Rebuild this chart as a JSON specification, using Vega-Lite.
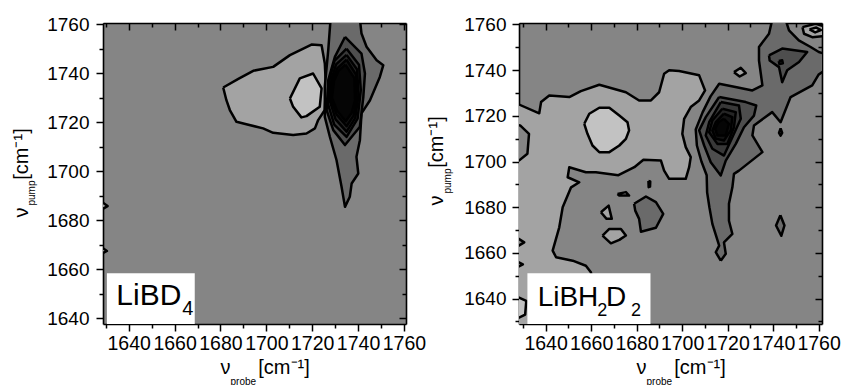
{
"$schema": "https://vega.github.io/schema/vega-lite/v6.json",
"padding": {"left": 11, "top": 15, "right": 0, "bottom": 0},
"bounds": "flush",
"spacing": 113,
"background": "white",
"config": {
  "view": {"fill": "#858585", "stroke": null},
  "axis": {"domainColor": "black", "domainWidth": 1.6, "tickColor": "black", "tickWidth": 1.5, "labelFont": "Liberation Sans", "labelFontSize": 19, "labelColor": "black", "titleFont": "Liberation Sans", "titleFontSize": 20, "titleFontWeight": "normal", "titleColor": "black", "grid": false, "labelFlush": false, "labelOverlap": false}
},
"datasets": {
  "ca": [
    {"g":"a1","l":-1,"i":1,"x":1681.2,"y":1734.2},{"g":"a1","l":-1,"i":2,"x":1688,"y":1737.8},{"g":"a1","l":-1,"i":3,"x":1694.3,"y":1741},{"g":"a1","l":-1,"i":4,"x":1703,"y":1742.6},{"g":"a1","l":-1,"i":5,"x":1710.3,"y":1747.4},{"g":"a1","l":-1,"i":6,"x":1719.7,"y":1751.7},{"g":"a1","l":-1,"i":7,"x":1724.1,"y":1751.4},{"g":"a1","l":-1,"i":8,"x":1725.5,"y":1744},{"g":"a1","l":-1,"i":9,"x":1726,"y":1734.5},{"g":"a1","l":-1,"i":10,"x":1725.5,"y":1725},{"g":"a1","l":-1,"i":11,"x":1722.6,"y":1720.9},{"g":"a1","l":-1,"i":12,"x":1721.2,"y":1717.5},{"g":"a1","l":-1,"i":13,"x":1717.5,"y":1715.4},{"g":"a1","l":-1,"i":14,"x":1711.7,"y":1714.8},{"g":"a1","l":-1,"i":15,"x":1703,"y":1715.7},{"g":"a1","l":-1,"i":16,"x":1698.6,"y":1717.5},{"g":"a1","l":-1,"i":17,"x":1691.3,"y":1719.2},{"g":"a1","l":-1,"i":18,"x":1687,"y":1720.2},{"g":"a1","l":-1,"i":19,"x":1684.1,"y":1725},{"g":"a1","l":-1,"i":20,"x":1682.6,"y":1729},{"g":"a1","l":-1,"i":21,"x":1681.2,"y":1734.2},
    {"g":"a9","l":-1,"i":1,"x":1627.5,"y":1688},{"g":"a9","l":-1,"i":2,"x":1630.8,"y":1685.8},{"g":"a9","l":-1,"i":3,"x":1627.5,"y":1684},{"g":"a9","l":-1,"i":4,"x":1627.5,"y":1688},
    {"g":"a10","l":-1,"i":1,"x":1627.5,"y":1669.5},{"g":"a10","l":-1,"i":2,"x":1630.5,"y":1667.5},{"g":"a10","l":-1,"i":3,"x":1627.5,"y":1666},{"g":"a10","l":-1,"i":4,"x":1627.5,"y":1669.5},
    {"g":"a2","l":-2,"i":1,"x":1710.3,"y":1729.7},{"g":"a2","l":-2,"i":2,"x":1714.6,"y":1737.9},{"g":"a2","l":-2,"i":3,"x":1720.4,"y":1739.9},{"g":"a2","l":-2,"i":4,"x":1724.1,"y":1733.8},{"g":"a2","l":-2,"i":5,"x":1723.3,"y":1726.3},{"g":"a2","l":-2,"i":6,"x":1717.5,"y":1722.5},{"g":"a2","l":-2,"i":7,"x":1715.3,"y":1722},{"g":"a2","l":-2,"i":8,"x":1711.7,"y":1726.3},{"g":"a2","l":-2,"i":9,"x":1710.3,"y":1729.7},
    {"g":"a3","l":1,"i":1,"x":1728,"y":1762},{"g":"a3","l":1,"i":2,"x":1727,"y":1749.4},{"g":"a3","l":1,"i":3,"x":1725.5,"y":1734.5},{"g":"a3","l":1,"i":4,"x":1725.5,"y":1722.2},{"g":"a3","l":1,"i":5,"x":1727.7,"y":1714.1},{"g":"a3","l":1,"i":6,"x":1730.6,"y":1704.6},{"g":"a3","l":1,"i":7,"x":1732.8,"y":1693.7},{"g":"a3","l":1,"i":8,"x":1734.3,"y":1685.5},{"g":"a3","l":1,"i":9,"x":1736.4,"y":1689.6},{"g":"a3","l":1,"i":10,"x":1737.2,"y":1695},{"g":"a3","l":1,"i":11,"x":1740.1,"y":1699.1},{"g":"a3","l":1,"i":12,"x":1739.3,"y":1705.9},{"g":"a3","l":1,"i":13,"x":1740.8,"y":1712.7},{"g":"a3","l":1,"i":14,"x":1741.5,"y":1723.6},{"g":"a3","l":1,"i":15,"x":1745.2,"y":1729},{"g":"a3","l":1,"i":16,"x":1749.5,"y":1738.5},{"g":"a3","l":1,"i":17,"x":1751,"y":1743.3},{"g":"a3","l":1,"i":18,"x":1748.1,"y":1745.3},{"g":"a3","l":1,"i":19,"x":1743.7,"y":1750.8},{"g":"a3","l":1,"i":20,"x":1741.5,"y":1756.2},{"g":"a3","l":1,"i":21,"x":1740.8,"y":1762},{"g":"a3","l":1,"i":22,"x":1728,"y":1762},
    {"g":"a4","l":2,"i":1,"x":1734.3,"y":1754.8},{"g":"a4","l":2,"i":2,"x":1741.5,"y":1748},{"g":"a4","l":2,"i":3,"x":1743,"y":1739.9},{"g":"a4","l":2,"i":4,"x":1742.3,"y":1730.4},{"g":"a4","l":2,"i":5,"x":1740.8,"y":1718.2},{"g":"a4","l":2,"i":6,"x":1734.3,"y":1710.7},{"g":"a4","l":2,"i":7,"x":1729.2,"y":1716.8},{"g":"a4","l":2,"i":8,"x":1726.3,"y":1724.9},{"g":"a4","l":2,"i":9,"x":1727,"y":1737.2},{"g":"a4","l":2,"i":10,"x":1729.9,"y":1746.7},{"g":"a4","l":2,"i":11,"x":1734.3,"y":1754.8},
    {"g":"a5","l":3,"i":1,"x":1735,"y":1750},{"g":"a5","l":3,"i":2,"x":1740.4,"y":1743.5},{"g":"a5","l":3,"i":3,"x":1741.2,"y":1733.1},{"g":"a5","l":3,"i":4,"x":1739.8,"y":1721.5},{"g":"a5","l":3,"i":5,"x":1735,"y":1714},{"g":"a5","l":3,"i":6,"x":1729.6,"y":1719},{"g":"a5","l":3,"i":7,"x":1726.8,"y":1727.7},{"g":"a5","l":3,"i":8,"x":1727.5,"y":1737.2},{"g":"a5","l":3,"i":9,"x":1729.7,"y":1745},{"g":"a5","l":3,"i":10,"x":1735,"y":1750},
    {"g":"a6","l":4,"i":1,"x":1735,"y":1747.5},{"g":"a6","l":4,"i":2,"x":1739.6,"y":1741.5},{"g":"a6","l":4,"i":3,"x":1740.2,"y":1731.1},{"g":"a6","l":4,"i":4,"x":1738.8,"y":1721.8},{"g":"a6","l":4,"i":5,"x":1735,"y":1716.2},{"g":"a6","l":4,"i":6,"x":1730.2,"y":1721.2},{"g":"a6","l":4,"i":7,"x":1727.6,"y":1729},{"g":"a6","l":4,"i":8,"x":1728.4,"y":1737.5},{"g":"a6","l":4,"i":9,"x":1730.4,"y":1743.6},{"g":"a6","l":4,"i":10,"x":1735,"y":1747.5},
    {"g":"a7","l":5,"i":1,"x":1735,"y":1745.5},{"g":"a7","l":5,"i":2,"x":1739.1,"y":1739.5},{"g":"a7","l":5,"i":3,"x":1739.4,"y":1729.5},{"g":"a7","l":5,"i":4,"x":1738,"y":1722.6},{"g":"a7","l":5,"i":5,"x":1735,"y":1718.4},{"g":"a7","l":5,"i":6,"x":1730.6,"y":1723.2},{"g":"a7","l":5,"i":7,"x":1728.1,"y":1729.7},{"g":"a7","l":5,"i":8,"x":1729,"y":1737.2},{"g":"a7","l":5,"i":9,"x":1730.9,"y":1742},{"g":"a7","l":5,"i":10,"x":1735,"y":1745.5},
    {"g":"a8","l":6,"i":1,"x":1734.5,"y":1743.5},{"g":"a8","l":6,"i":2,"x":1738.4,"y":1738},{"g":"a8","l":6,"i":3,"x":1738.7,"y":1729},{"g":"a8","l":6,"i":4,"x":1737.2,"y":1723.8},{"g":"a8","l":6,"i":5,"x":1734.6,"y":1720.4},{"g":"a8","l":6,"i":6,"x":1730.8,"y":1724.8},{"g":"a8","l":6,"i":7,"x":1728.6,"y":1730},{"g":"a8","l":6,"i":8,"x":1729.5,"y":1736.8},{"g":"a8","l":6,"i":9,"x":1731.5,"y":1741},{"g":"a8","l":6,"i":10,"x":1734.5,"y":1743.5}
  ],
  "cb": [
    {"g":"b1","l":-1,"i":1,"x":1627,"y":1725.5},{"g":"b1","l":-1,"i":2,"x":1637.2,"y":1721.1},{"g":"b1","l":-1,"i":3,"x":1638,"y":1726},{"g":"b1","l":-1,"i":4,"x":1641.6,"y":1728.9},{"g":"b1","l":-1,"i":5,"x":1650.4,"y":1728.2},{"g":"b1","l":-1,"i":6,"x":1655.5,"y":1730.8},{"g":"b1","l":-1,"i":7,"x":1663.6,"y":1733.6},{"g":"b1","l":-1,"i":8,"x":1675.3,"y":1730.3},{"g":"b1","l":-1,"i":9,"x":1681.1,"y":1726.7},{"g":"b1","l":-1,"i":10,"x":1686.3,"y":1726.7},{"g":"b1","l":-1,"i":11,"x":1689.9,"y":1730.3},{"g":"b1","l":-1,"i":12,"x":1692.1,"y":1738.4},{"g":"b1","l":-1,"i":13,"x":1694.3,"y":1739.9},{"g":"b1","l":-1,"i":14,"x":1698.7,"y":1739.6},{"g":"b1","l":-1,"i":15,"x":1707.5,"y":1737.7},{"g":"b1","l":-1,"i":16,"x":1710.1,"y":1731.1},{"g":"b1","l":-1,"i":17,"x":1707.5,"y":1726.7},{"g":"b1","l":-1,"i":18,"x":1703.8,"y":1723.8},{"g":"b1","l":-1,"i":19,"x":1700.9,"y":1718.7},{"g":"b1","l":-1,"i":20,"x":1700.1,"y":1712.1},{"g":"b1","l":-1,"i":21,"x":1701.6,"y":1706.3},{"g":"b1","l":-1,"i":22,"x":1703.8,"y":1701.9},{"g":"b1","l":-1,"i":23,"x":1703.1,"y":1697.5},{"g":"b1","l":-1,"i":24,"x":1701.6,"y":1692.4},{"g":"b1","l":-1,"i":25,"x":1694.3,"y":1692.4},{"g":"b1","l":-1,"i":26,"x":1692.1,"y":1696},{"g":"b1","l":-1,"i":27,"x":1690.7,"y":1700.4},{"g":"b1","l":-1,"i":28,"x":1683,"y":1700.8},{"g":"b1","l":-1,"i":29,"x":1679,"y":1697.5},{"g":"b1","l":-1,"i":30,"x":1672,"y":1694},{"g":"b1","l":-1,"i":31,"x":1662.1,"y":1695.3},{"g":"b1","l":-1,"i":32,"x":1657.7,"y":1695.3},{"g":"b1","l":-1,"i":33,"x":1650.4,"y":1697.5},{"g":"b1","l":-1,"i":34,"x":1649.7,"y":1693.1},{"g":"b1","l":-1,"i":35,"x":1654.8,"y":1690.9},{"g":"b1","l":-1,"i":36,"x":1651.2,"y":1688.7},{"g":"b1","l":-1,"i":37,"x":1647.5,"y":1680},{"g":"b1","l":-1,"i":38,"x":1646,"y":1671.2},{"g":"b1","l":-1,"i":39,"x":1643.1,"y":1661},{"g":"b1","l":-1,"i":40,"x":1644.6,"y":1658.1},{"g":"b1","l":-1,"i":41,"x":1651.9,"y":1656.6},{"g":"b1","l":-1,"i":42,"x":1657.7,"y":1654.4},{"g":"b1","l":-1,"i":43,"x":1659.9,"y":1651.5},{"g":"b1","l":-1,"i":44,"x":1662,"y":1640},{"g":"b1","l":-1,"i":45,"x":1660,"y":1627},{"g":"b1","l":-1,"i":46,"x":1627,"y":1627},{"g":"b1","l":-1,"i":47,"x":1627,"y":1725.5},
    {"g":"b2","l":0,"i":1,"x":1627,"y":1716},{"g":"b2","l":0,"i":2,"x":1628.8,"y":1715.8},{"g":"b2","l":0,"i":3,"x":1632.7,"y":1712.1},{"g":"b2","l":0,"i":4,"x":1632,"y":1703.4},{"g":"b2","l":0,"i":5,"x":1628.3,"y":1700.4},{"g":"b2","l":0,"i":6,"x":1627,"y":1700.4},{"g":"b2","l":0,"i":7,"x":1627,"y":1716},
    {"g":"b3","l":0,"i":1,"x":1627,"y":1667},{"g":"b3","l":0,"i":2,"x":1630.6,"y":1664.6},{"g":"b3","l":0,"i":3,"x":1627,"y":1662.5},{"g":"b3","l":0,"i":4,"x":1627,"y":1667},
    {"g":"b4","l":0,"i":1,"x":1627,"y":1656.5},{"g":"b4","l":0,"i":2,"x":1630,"y":1655},{"g":"b4","l":0,"i":3,"x":1627,"y":1653.5},{"g":"b4","l":0,"i":4,"x":1627,"y":1656.5},
    {"g":"b5","l":-2,"i":1,"x":1627,"y":1641},{"g":"b5","l":-2,"i":2,"x":1631.5,"y":1639},{"g":"b5","l":-2,"i":3,"x":1631,"y":1633},{"g":"b5","l":-2,"i":4,"x":1627,"y":1631},{"g":"b5","l":-2,"i":5,"x":1627,"y":1641},
    {"g":"b6","l":-2,"i":1,"x":1657,"y":1716.5},{"g":"b6","l":-2,"i":2,"x":1659.2,"y":1720.9},{"g":"b6","l":-2,"i":3,"x":1663.6,"y":1723.5},{"g":"b6","l":-2,"i":4,"x":1668,"y":1723.5},{"g":"b6","l":-2,"i":5,"x":1672.4,"y":1720.1},{"g":"b6","l":-2,"i":6,"x":1676,"y":1717.2},{"g":"b6","l":-2,"i":7,"x":1676.7,"y":1713.6},{"g":"b6","l":-2,"i":8,"x":1675.3,"y":1709.9},{"g":"b6","l":-2,"i":9,"x":1672.4,"y":1707},{"g":"b6","l":-2,"i":10,"x":1668,"y":1704.1},{"g":"b6","l":-2,"i":11,"x":1663.6,"y":1704.1},{"g":"b6","l":-2,"i":12,"x":1660.6,"y":1707},{"g":"b6","l":-2,"i":13,"x":1658.4,"y":1712.1},{"g":"b6","l":-2,"i":14,"x":1657,"y":1716.5},
    {"g":"b7","l":-1,"i":1,"x":1664.3,"y":1677.8},{"g":"b7","l":-1,"i":2,"x":1667.7,"y":1680.7},{"g":"b7","l":-1,"i":3,"x":1669.1,"y":1674.9},{"g":"b7","l":-1,"i":4,"x":1666.8,"y":1674.9},{"g":"b7","l":-1,"i":5,"x":1664.3,"y":1677.8},
    {"g":"b8","l":-1,"i":1,"x":1665,"y":1667.6},{"g":"b8","l":-1,"i":2,"x":1668,"y":1670.5},{"g":"b8","l":-1,"i":3,"x":1673.1,"y":1670.5},{"g":"b8","l":-1,"i":4,"x":1675.3,"y":1667.6},{"g":"b8","l":-1,"i":5,"x":1672.4,"y":1665.7},{"g":"b8","l":-1,"i":6,"x":1668.7,"y":1664.2},{"g":"b8","l":-1,"i":7,"x":1665,"y":1667.6},
    {"g":"b9","l":-1,"i":1,"x":1671.6,"y":1685.8},{"g":"b9","l":-1,"i":2,"x":1675.3,"y":1686.6},{"g":"b9","l":-1,"i":3,"x":1676.7,"y":1685.1},{"g":"b9","l":-1,"i":4,"x":1672.4,"y":1685.1},{"g":"b9","l":-1,"i":5,"x":1671.6,"y":1685.8},
    {"g":"b10","l":-1,"i":1,"x":1722.8,"y":1739.1},{"g":"b10","l":-1,"i":2,"x":1725.8,"y":1741},{"g":"b10","l":-1,"i":3,"x":1728,"y":1738.7},{"g":"b10","l":-1,"i":4,"x":1725.3,"y":1737.2},{"g":"b10","l":-1,"i":5,"x":1722.8,"y":1739.1},
    {"g":"b11","l":-1,"i":1,"x":1752.9,"y":1758.8},{"g":"b11","l":-1,"i":2,"x":1758.7,"y":1760.3},{"g":"b11","l":-1,"i":3,"x":1763,"y":1759},{"g":"b11","l":-1,"i":4,"x":1763,"y":1755},{"g":"b11","l":-1,"i":5,"x":1757.2,"y":1754.4},{"g":"b11","l":-1,"i":6,"x":1753.6,"y":1755.9},{"g":"b11","l":-1,"i":7,"x":1752.9,"y":1758.8},
    {"g":"b12","l":-2,"i":1,"x":1756,"y":1757.8},{"g":"b12","l":-2,"i":2,"x":1759,"y":1758.6},{"g":"b12","l":-2,"i":3,"x":1761,"y":1757.5},{"g":"b12","l":-2,"i":4,"x":1758.5,"y":1756.5},{"g":"b12","l":-2,"i":5,"x":1756,"y":1757.8},
    {"g":"b13","l":1,"i":1,"x":1678.9,"y":1681.5},{"g":"b13","l":1,"i":2,"x":1684.1,"y":1684.7},{"g":"b13","l":1,"i":3,"x":1688.5,"y":1682.2},{"g":"b13","l":1,"i":4,"x":1691.7,"y":1677.1},{"g":"b13","l":1,"i":5,"x":1688.5,"y":1671},{"g":"b13","l":1,"i":6,"x":1681.9,"y":1669.3},{"g":"b13","l":1,"i":7,"x":1681.1,"y":1674.9},{"g":"b13","l":1,"i":8,"x":1679.4,"y":1678.5},{"g":"b13","l":1,"i":9,"x":1678.9,"y":1681.5},
    {"g":"b15","l":1,"i":1,"x":1743.2,"y":1676.5},{"g":"b15","l":1,"i":2,"x":1745,"y":1672},{"g":"b15","l":1,"i":3,"x":1743.6,"y":1667.5},{"g":"b15","l":1,"i":4,"x":1741.3,"y":1672},{"g":"b15","l":1,"i":5,"x":1743.2,"y":1676.5},
    {"g":"b16","l":1,"i":1,"x":1717,"y":1656.6},{"g":"b16","l":1,"i":2,"x":1714.8,"y":1660.3},{"g":"b16","l":1,"i":3,"x":1716.3,"y":1663.2},{"g":"b16","l":1,"i":4,"x":1713.3,"y":1672.7},{"g":"b16","l":1,"i":5,"x":1712,"y":1680},{"g":"b16","l":1,"i":6,"x":1711,"y":1686.5},{"g":"b16","l":1,"i":7,"x":1710.8,"y":1694},{"g":"b16","l":1,"i":8,"x":1708.5,"y":1700},{"g":"b16","l":1,"i":9,"x":1706.5,"y":1707},{"g":"b16","l":1,"i":10,"x":1706,"y":1714},{"g":"b16","l":1,"i":11,"x":1709,"y":1721.5},{"g":"b16","l":1,"i":12,"x":1712.5,"y":1728.5},{"g":"b16","l":1,"i":13,"x":1716.3,"y":1734},{"g":"b16","l":1,"i":14,"x":1724,"y":1732.5},{"g":"b16","l":1,"i":15,"x":1730.9,"y":1731.1},{"g":"b16","l":1,"i":16,"x":1735.3,"y":1733.3},{"g":"b16","l":1,"i":17,"x":1734.6,"y":1738.4},{"g":"b16","l":1,"i":18,"x":1733.8,"y":1744.2},{"g":"b16","l":1,"i":19,"x":1733.8,"y":1750.1},{"g":"b16","l":1,"i":20,"x":1738.2,"y":1755.9},{"g":"b16","l":1,"i":21,"x":1739.6,"y":1762},{"g":"b16","l":1,"i":22,"x":1745.5,"y":1762},{"g":"b16","l":1,"i":23,"x":1747,"y":1757.4},{"g":"b16","l":1,"i":24,"x":1751.3,"y":1753},{"g":"b16","l":1,"i":25,"x":1756.5,"y":1750.1},{"g":"b16","l":1,"i":26,"x":1760.1,"y":1747.9},{"g":"b16","l":1,"i":27,"x":1763,"y":1747},{"g":"b16","l":1,"i":28,"x":1763,"y":1740},{"g":"b16","l":1,"i":29,"x":1760,"y":1738},{"g":"b16","l":1,"i":30,"x":1757.2,"y":1733.3},{"g":"b16","l":1,"i":31,"x":1747.7,"y":1728.2},{"g":"b16","l":1,"i":32,"x":1743.3,"y":1717.2},{"g":"b16","l":1,"i":33,"x":1739.6,"y":1721.6},{"g":"b16","l":1,"i":34,"x":1731.6,"y":1715.8},{"g":"b16","l":1,"i":35,"x":1730.9,"y":1711.4},{"g":"b16","l":1,"i":36,"x":1735.3,"y":1704.1},{"g":"b16","l":1,"i":37,"x":1725,"y":1696},{"g":"b16","l":1,"i":38,"x":1722.8,"y":1694.6},{"g":"b16","l":1,"i":39,"x":1722.1,"y":1688.7},{"g":"b16","l":1,"i":40,"x":1720.6,"y":1681.5},{"g":"b16","l":1,"i":41,"x":1720.6,"y":1674.1},{"g":"b16","l":1,"i":42,"x":1722.1,"y":1668.3},{"g":"b16","l":1,"i":43,"x":1718.4,"y":1664.6},{"g":"b16","l":1,"i":44,"x":1719.2,"y":1659.6},{"g":"b16","l":1,"i":45,"x":1717,"y":1656.6},
    {"g":"b14","l":2,"i":1,"x":1685.2,"y":1691.5},{"g":"b14","l":2,"i":2,"x":1686,"y":1691.3},{"g":"b14","l":2,"i":3,"x":1685.9,"y":1689},{"g":"b14","l":2,"i":4,"x":1685.3,"y":1688.8},{"g":"b14","l":2,"i":5,"x":1685.2,"y":1691.5},
    {"g":"b17","l":2,"i":1,"x":1716.3,"y":1728.2},{"g":"b17","l":2,"i":2,"x":1728,"y":1726},{"g":"b17","l":2,"i":3,"x":1732.6,"y":1724.5},{"g":"b17","l":2,"i":4,"x":1731.6,"y":1720.1},{"g":"b17","l":2,"i":5,"x":1727.2,"y":1715},{"g":"b17","l":2,"i":6,"x":1723.6,"y":1707.7},{"g":"b17","l":2,"i":7,"x":1719.2,"y":1700.4},{"g":"b17","l":2,"i":8,"x":1717,"y":1693.9},{"g":"b17","l":2,"i":9,"x":1712.6,"y":1699.7},{"g":"b17","l":2,"i":10,"x":1709.7,"y":1707},{"g":"b17","l":2,"i":11,"x":1707.5,"y":1713.6},{"g":"b17","l":2,"i":12,"x":1710.4,"y":1719.4},{"g":"b17","l":2,"i":13,"x":1716.3,"y":1728.2},
    {"g":"b18","l":2,"i":1,"x":1738.2,"y":1746.4},{"g":"b18","l":2,"i":2,"x":1744,"y":1749.4},{"g":"b18","l":2,"i":3,"x":1755,"y":1747.9},{"g":"b18","l":2,"i":4,"x":1751.4,"y":1743.5},{"g":"b18","l":2,"i":5,"x":1746.2,"y":1739.9},{"g":"b18","l":2,"i":6,"x":1744,"y":1734.7},{"g":"b18","l":2,"i":7,"x":1742.6,"y":1741.3},{"g":"b18","l":2,"i":8,"x":1738.5,"y":1744.2},{"g":"b18","l":2,"i":9,"x":1738.2,"y":1746.4},
    {"g":"b19","l":2,"i":1,"x":1743.3,"y":1714.5},{"g":"b19","l":2,"i":2,"x":1744,"y":1712.5},{"g":"b19","l":2,"i":3,"x":1743.3,"y":1711.3},{"g":"b19","l":2,"i":4,"x":1742.6,"y":1712.5},{"g":"b19","l":2,"i":5,"x":1743.3,"y":1714.5},
    {"g":"b20","l":3,"i":1,"x":1717,"y":1726},{"g":"b20","l":3,"i":2,"x":1725,"y":1724.5},{"g":"b20","l":3,"i":3,"x":1725.8,"y":1718.7},{"g":"b20","l":3,"i":4,"x":1722.1,"y":1710.6},{"g":"b20","l":3,"i":5,"x":1718.4,"y":1702.6},{"g":"b20","l":3,"i":6,"x":1713.3,"y":1705.6},{"g":"b20","l":3,"i":7,"x":1710.4,"y":1711.4},{"g":"b20","l":3,"i":8,"x":1711.9,"y":1717.2},{"g":"b20","l":3,"i":9,"x":1717,"y":1726},
    {"g":"b21","l":3,"i":1,"x":1742.5,"y":1744},{"g":"b21","l":3,"i":2,"x":1744,"y":1744.3},{"g":"b21","l":3,"i":3,"x":1744.3,"y":1743},{"g":"b21","l":3,"i":4,"x":1742.8,"y":1742.6},{"g":"b21","l":3,"i":5,"x":1742.5,"y":1744},
    {"g":"b22","l":4,"i":1,"x":1717.7,"y":1723.1},{"g":"b22","l":4,"i":2,"x":1723.6,"y":1721.6},{"g":"b22","l":4,"i":3,"x":1722.8,"y":1715},{"g":"b22","l":4,"i":4,"x":1719.9,"y":1707.7},{"g":"b22","l":4,"i":5,"x":1715.5,"y":1707.7},{"g":"b22","l":4,"i":6,"x":1711.9,"y":1712.8},{"g":"b22","l":4,"i":7,"x":1713.3,"y":1718},{"g":"b22","l":4,"i":8,"x":1717.7,"y":1723.1},
    {"g":"b23","l":5,"i":1,"x":1718.4,"y":1720.9},{"g":"b23","l":5,"i":2,"x":1722.1,"y":1719.4},{"g":"b23","l":5,"i":3,"x":1721.4,"y":1713.6},{"g":"b23","l":5,"i":4,"x":1718.4,"y":1709.2},{"g":"b23","l":5,"i":5,"x":1714.8,"y":1710},{"g":"b23","l":5,"i":6,"x":1713.3,"y":1713.6},{"g":"b23","l":5,"i":7,"x":1714.8,"y":1717.2},{"g":"b23","l":5,"i":8,"x":1718.4,"y":1720.9},
    {"g":"b24","l":6,"i":1,"x":1718.4,"y":1718.7},{"g":"b24","l":6,"i":2,"x":1720.6,"y":1716.5},{"g":"b24","l":6,"i":3,"x":1719.2,"y":1711.4},{"g":"b24","l":6,"i":4,"x":1715.5,"y":1711.4},{"g":"b24","l":6,"i":5,"x":1714.5,"y":1714.3},{"g":"b24","l":6,"i":6,"x":1716,"y":1717.2},{"g":"b24","l":6,"i":7,"x":1718.4,"y":1718.7}
  ],
  "la": [
    {"k":"box","x":1630.5,"x2":1668.8,"y":1636,"y2":1658.4},
    {"k":"main","t":"LiBD","x":1634.6,"y":1645.5},
    {"k":"sub","t":"4","x":1663.4,"y":1641.4}
  ],
  "lb": [
    {"k":"box","x":1632,"x2":1686.1,"y":1627,"y2":1651.1},
    {"k":"main","t":"LiBH","x":1636.5,"y":1636.9},
    {"k":"sub","t":"2","x":1662.7,"y":1632.5},
    {"k":"main","t":"D","x":1666.5,"y":1636.9},
    {"k":"sub","t":"2","x":1677.5,"y":1632.5}
  ]
},
"hconcat": [
  {
    "width": 303, "height": 301,
    "resolve": {"axis": {"x": "independent", "y": "independent"}},
    "layer": [
      {
        "encoding": {
          "x": {"field": "x", "type": "quantitative", "scale": {"domain": [1628.8, 1760.9], "nice": false, "zero": false},
                "axis": {"orient": "bottom", "values": [1630,1640,1650,1660,1670,1680,1690,1700,1710,1720,1730,1740,1750,1760], "format": "d", "labelExpr": "datum.value % 20 == 0 ? datum.label : ''", "tickSize": {"condition": {"test": "datum.value % 20 == 0", "value": 7}, "value": 4}, "labelPadding": 3, "labelFontSize": 19.5, "title": "ν\u00a0\u00a0\u00a0\u00a0\u00a0[cm\u207b\u00b9]", "titleX": 117, "titleY": 49, "titleAlign": "left", "titleBaseline": "alphabetic"}},
          "y": {"field": "y", "type": "quantitative", "scale": {"domain": [1637.7, 1760.5], "nice": false, "zero": false},
                "axis": {"orient": "left", "values": [1640,1650,1660,1670,1680,1690,1700,1710,1720,1730,1740,1750,1760], "format": "d", "labelExpr": "datum.value % 20 == 0 ? datum.label : ''", "tickSize": {"condition": {"test": "datum.value % 20 == 0", "value": 7}, "value": 4}, "labelPadding": 7, "title": "ν\u00a0\u00a0\u00a0\u00a0\u00a0[cm\u207b\u00b9]", "titleAngle": 270, "titleX": -76, "titleY": 194, "titleAlign": "left", "titleBaseline": "alphabetic"}}
        },
        "layer": [
          {
            "data": {"name": "ca"},
            "mark": {"type": "line", "stroke": "black", "strokeWidth": 2.5, "strokeJoin": "round", "clip": true},
            "encoding": {
              "order": {"field": "i", "type": "quantitative"},
              "detail": {"field": "g", "type": "nominal"},
              "fill": {"field": "l", "type": "ordinal", "scale": {"domain": [-2,-1,0,1,2,3,4,5,6], "range": ["#c2c2c2","#a3a3a3","#858585","#6a6a6a","#4e4e4e","#383838","#252525","#131313","#050505"]}, "legend": null}
            }
          },
          {
            "data": {"name": "la"},
            "transform": [{"filter": "datum.k == 'box'"}],
            "mark": {"type": "rect", "fill": "white", "clip": true},
            "encoding": {"x2": {"field": "x2"}, "y2": {"field": "y2"}}
          },
          {
            "data": {"name": "la"},
            "transform": [{"filter": "datum.k == 'main'"}],
            "mark": {"type": "text", "font": "Liberation Sans", "fontSize": 30, "align": "left", "baseline": "alphabetic", "color": "black"},
            "encoding": {"text": {"field": "t"}}
          },
          {
            "data": {"name": "la"},
            "transform": [{"filter": "datum.k == 'sub'"}],
            "mark": {"type": "text", "font": "Liberation Sans", "fontSize": 20, "align": "left", "baseline": "alphabetic", "color": "black"},
            "encoding": {"text": {"field": "t"}}
          }
        ]
      },
      {
        "data": {"values": [{"x": 1700, "y": 1700}]},
        "mark": {"type": "point", "opacity": 0},
        "encoding": {
          "x": {"field": "x", "type": "quantitative", "scale": {"domain": [1628.8, 1760.9], "nice": false, "zero": false},
                "axis": {"orient": "top", "values": [1630,1640,1650,1660,1670,1680,1690,1700,1710,1720,1730,1740,1750,1760], "labels": false, "tickSize": {"condition": {"test": "datum.value % 20 == 0", "value": -7}, "value": -4}, "title": "probe", "titleFontSize": 10, "titleX": 127, "titleY": 361, "titleAlign": "left", "titleBaseline": "alphabetic"}},
          "y": {"field": "y", "type": "quantitative", "scale": {"domain": [1637.7, 1760.5], "nice": false, "zero": false},
                "axis": {"orient": "right", "values": [1640,1650,1660,1670,1680,1690,1700,1710,1720,1730,1740,1750,1760], "labels": false, "tickSize": {"condition": {"test": "datum.value % 20 == 0", "value": -7}, "value": -4}, "title": "pump", "titleFontSize": 10, "titleAngle": 270, "titleX": -372, "titleY": 182, "titleAlign": "left", "titleBaseline": "alphabetic"}}
        }
      }
    ]
  },
  {
    "width": 303, "height": 301,
    "resolve": {"axis": {"x": "independent", "y": "independent"}},
    "layer": [
      {
        "encoding": {
          "x": {"field": "x", "type": "quantitative", "scale": {"domain": [1628.3, 1761.5], "nice": false, "zero": false},
                "axis": {"orient": "bottom", "values": [1630,1640,1650,1660,1670,1680,1690,1700,1710,1720,1730,1740,1750,1760], "format": "d", "labelExpr": "datum.value % 20 == 0 ? datum.label : ''", "tickSize": {"condition": {"test": "datum.value % 20 == 0", "value": 7}, "value": 4}, "labelPadding": 3, "labelFontSize": 19.5, "title": "ν\u00a0\u00a0\u00a0\u00a0\u00a0[cm\u207b\u00b9]", "titleX": 117, "titleY": 49, "titleAlign": "left", "titleBaseline": "alphabetic"}},
          "y": {"field": "y", "type": "quantitative", "scale": {"domain": [1628.9, 1760.6], "nice": false, "zero": false},
                "axis": {"orient": "left", "values": [1630,1640,1650,1660,1670,1680,1690,1700,1710,1720,1730,1740,1750,1760], "format": "d", "labelExpr": "datum.value % 20 == 0 ? datum.label : ''", "tickSize": {"condition": {"test": "datum.value % 20 == 0", "value": 7}, "value": 4}, "labelPadding": 6, "title": "ν\u00a0\u00a0\u00a0\u00a0\u00a0[cm\u207b\u00b9]", "titleAngle": 270, "titleX": -77, "titleY": 182, "titleAlign": "left", "titleBaseline": "alphabetic"}}
        },
        "layer": [
          {
            "data": {"name": "cb"},
            "mark": {"type": "line", "stroke": "black", "strokeWidth": 2.5, "strokeJoin": "round", "clip": true},
            "encoding": {
              "order": {"field": "i", "type": "quantitative"},
              "detail": {"field": "g", "type": "nominal"},
              "fill": {"field": "l", "type": "ordinal", "scale": {"domain": [-2,-1,0,1,2,3,4,5,6], "range": ["#c2c2c2","#a3a3a3","#858585","#6a6a6a","#4e4e4e","#383838","#252525","#131313","#050505"]}, "legend": null}
            }
          },
          {
            "data": {"name": "lb"},
            "transform": [{"filter": "datum.k == 'box'"}],
            "mark": {"type": "rect", "fill": "white", "clip": true},
            "encoding": {"x2": {"field": "x2"}, "y2": {"field": "y2"}}
          },
          {
            "data": {"name": "lb"},
            "transform": [{"filter": "datum.k == 'main'"}],
            "mark": {"type": "text", "font": "Liberation Sans", "fontSize": 28, "align": "left", "baseline": "alphabetic", "color": "black"},
            "encoding": {"text": {"field": "t"}}
          },
          {
            "data": {"name": "lb"},
            "transform": [{"filter": "datum.k == 'sub'"}],
            "mark": {"type": "text", "font": "Liberation Sans", "fontSize": 18, "align": "left", "baseline": "alphabetic", "color": "black"},
            "encoding": {"text": {"field": "t"}}
          }
        ]
      },
      {
        "data": {"values": [{"x": 1700, "y": 1700}]},
        "mark": {"type": "point", "opacity": 0},
        "encoding": {
          "x": {"field": "x", "type": "quantitative", "scale": {"domain": [1628.3, 1761.5], "nice": false, "zero": false},
                "axis": {"orient": "top", "values": [1630,1640,1650,1660,1670,1680,1690,1700,1710,1720,1730,1740,1750,1760], "labels": false, "tickSize": {"condition": {"test": "datum.value % 20 == 0", "value": -7}, "value": -4}, "title": "probe", "titleFontSize": 10, "titleX": 127, "titleY": 361, "titleAlign": "left", "titleBaseline": "alphabetic"}},
          "y": {"field": "y", "type": "quantitative", "scale": {"domain": [1628.9, 1760.6], "nice": false, "zero": false},
                "axis": {"orient": "right", "values": [1630,1640,1650,1660,1670,1680,1690,1700,1710,1720,1730,1740,1750,1760], "labels": false, "tickSize": {"condition": {"test": "datum.value % 20 == 0", "value": -7}, "value": -4}, "title": "pump", "titleFontSize": 10, "titleAngle": 270, "titleX": -372, "titleY": 170, "titleAlign": "left", "titleBaseline": "alphabetic"}}
        }
      }
    ]
  }
]
}
